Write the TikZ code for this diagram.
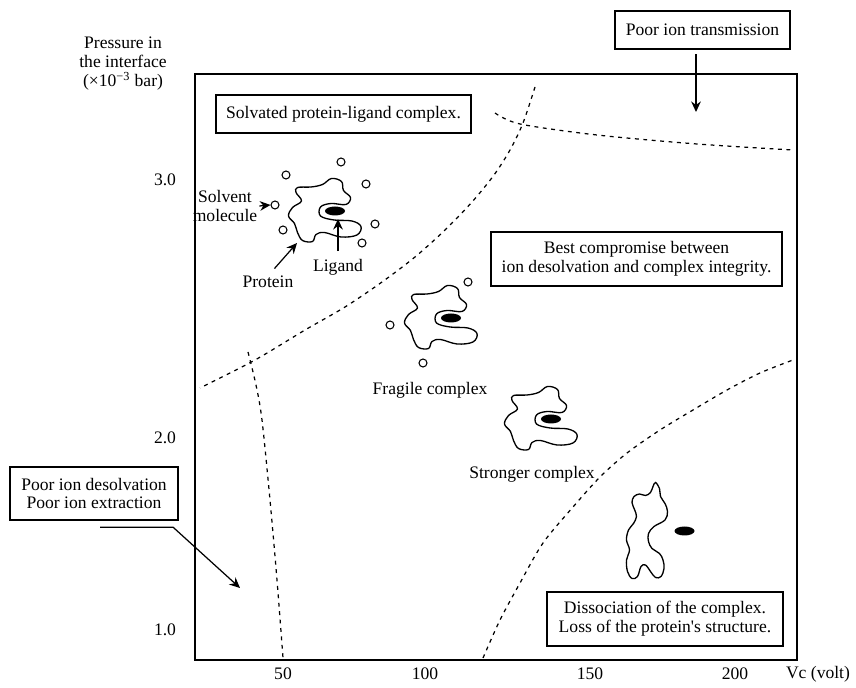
\documentclass[tikz,border=0pt]{standalone}
\usepackage{fontspec}
\setmainfont{Liberation Serif}
\usetikzlibrary{arrows.meta}

\tikzset{
  box/.style={draw, line width=1.3pt, fill=white, align=center, inner sep=0pt},
  pointer/.style={line width=0.7pt, -{Stealth[length=6pt,width=5.5pt,inset=2pt]}},
  border/.style={dash pattern=on 2.2pt off 2.6pt, line width=0.7pt},
  blob/.style={line width=0.75pt},
  solvent/.style={circle, draw, line width=0.6pt, minimum size=0.16cm, inner sep=0pt},
  complex/.pic={
    \draw[blob] plot[smooth cycle, tension=0.6] coordinates {
      (-0.75,0.47) (-0.48,0.48) (-0.25,0.53) (-0.07,0.65) (0.13,0.59)
      (0.17,0.41) (0.31,0.27) (0.22,0.13) (-0.08,0.15) (-0.29,0.08)
      (-0.29,-0.10) (-0.02,-0.18) (0.34,-0.20) (0.52,-0.31) (0.44,-0.48)
      (0.12,-0.52) (-0.21,-0.43) (-0.38,-0.47) (-0.45,-0.61) (-0.65,-0.59)
      (-0.75,-0.43) (-0.81,-0.25) (-0.93,-0.10) (-0.85,0.07) (-0.67,0.20)
      (-0.78,0.37)};
    \fill (0,0) ellipse (0.2 and 0.09);
  }
}

\begin{document}
\begin{tikzpicture}[font=\fontsize{10}{10.8}\selectfont]
\useasboundingbox (0,0) rectangle (17.12,13.74);

% frame
\draw[line width=1.6pt] (3.9,0.54) rectangle (15.94,12.26);

% axes labels
\node[align=center] (ylab) at (2.46,12.46) {Pressure in\\the interface\\(×10\textsuperscript{−3} bar)};
\node (y30) at (3.3,10.14) {3.0};
\node (y20) at (3.3,4.98) {2.0};
\node (y10) at (3.3,1.14) {1.0};
\node (x50) at (5.66,0.26) {50};
\node (x100) at (8.5,0.26) {100};
\node (x150) at (11.8,0.26) {150};
\node (x200) at (14.7,0.26) {200};
\node (xlab) at (16.36,0.26) {Vc (volt)};

% region borders
\draw[border] plot[smooth] coordinates {(9.9,11.48) (10.4,11.26) (11.94,11.04) (13.94,10.86) (15.86,10.74)};
\draw[border] plot[smooth] coordinates {(10.7,12.0) (10.46,11.28) (10.2,10.74) (9.88,10.24) (9.44,9.7) (8.9,9.14)
  (8.3,8.6) (7.64,8.1) (6.9,7.6) (6.1,7.14) (5.1,6.54) (4.0,5.98)};
\draw[border] plot[smooth] coordinates {(4.96,6.7) (5.12,6.04) (5.24,5.34) (5.4,3.74) (5.54,2.14) (5.66,0.58)};
\draw[border] plot[smooth] coordinates {(9.66,0.58) (10.0,1.34) (10.4,2.08) (10.86,2.88) (11.46,3.6) (12.0,4.2)
  (12.54,4.68) (13.2,5.14) (13.86,5.54) (14.54,5.94) (15.2,6.28) (15.86,6.54)};

% boxes
\node[box, minimum width=3.5cm, minimum height=0.76cm] (trans) at (14.05,13.14) {Poor ion transmission};
\node[box, minimum width=5.1cm, minimum height=0.76cm] (solvated) at (6.87,11.46) {Solvated protein-ligand complex.};
\node[box, minimum width=5.82cm, minimum height=1.08cm] (best) at (12.73,8.56) {Best compromise between\\ion desolvation and complex integrity.};
\node[box, minimum width=3.36cm, minimum height=1.06cm] (desolv) at (1.88,3.87) {Poor ion desolvation\\Poor ion extraction};
\node[box, minimum width=4.72cm, minimum height=1.08cm] (dissoc) at (13.3,1.36) {Dissociation of the complex.\\Loss of the protein\textquotesingle s structure.};

\coordinate (transtip) at (13.92,11.5);
\draw[pointer, shorten <=0.08cm] (trans.south -| transtip) -- (transtip);
\coordinate (desolvtip) at (4.8,1.98);
\draw[pointer] ([shift={(0.12,-0.12)}]desolv.south) -- ++(1.46,0) -- (desolvtip);

% solvated complex
\pic (p1) at (6.7,9.52) {complex};
\foreach \pos [count=\i] in {(5.72,10.24),(6.82,10.5),(7.32,10.06),(5.5,9.64),(5.66,9.14),(7.5,9.26),(7.24,8.88)}
  \node[solvent] (s\i) at \pos {};
\node[align=center, inner sep=1pt] (solvlab) at (4.5,9.62) {Solvent\\molecule};
\draw[pointer] (solvlab.east) -- (s4.west);
\node (protlab) at (5.36,8.1) {Protein};
\coordinate (prottip) at (5.94,8.88);
\draw[pointer, shorten <=1pt] ([xshift=3pt]protlab.north) -- (prottip);
\node (ligandlab) at (6.76,8.4) {Ligand};
\coordinate (ligandtip) at (6.76,9.36);
\draw[pointer, shorten <=1pt] (ligandlab.north) -- (ligandtip);

% fragile complex
\pic (p2) at (9.02,7.38) {complex};
\foreach \pos [count=\i] in {(9.36,8.1),(7.8,7.24),(8.46,6.48)}
  \node[solvent] (f\i) at \pos {};
\node (fragile) at (8.6,5.94) {Fragile complex};

% stronger complex
\pic (p3) at (11.02,5.36) {complex};
\node (stronger) at (10.64,4.26) {Stronger complex};

% dissociated protein and ligand
\draw[blob] plot[smooth cycle, tension=0.6] coordinates {
  (13.11,4.09) (13.19,3.97) (13.21,3.81) (13.30,3.67) (13.35,3.51) (13.30,3.34)
  (13.08,3.21) (12.97,3.07) (12.97,2.91) (13.04,2.77) (13.19,2.67) (13.26,2.54)
  (13.28,2.37) (13.22,2.21) (13.11,2.19) (13.01,2.31) (12.91,2.44) (12.82,2.41)
  (12.75,2.21) (12.64,2.17) (12.55,2.31) (12.53,2.54) (12.59,2.74) (12.53,2.94)
  (12.57,3.14) (12.67,3.27) (12.73,3.41) (12.69,3.55) (12.64,3.69) (12.68,3.81)
  (12.79,3.86) (12.91,3.83) (13.01,3.89) (13.06,4.01)};
\fill (13.69,3.12) ellipse (0.2 and 0.09);

\end{tikzpicture}
\end{document}
